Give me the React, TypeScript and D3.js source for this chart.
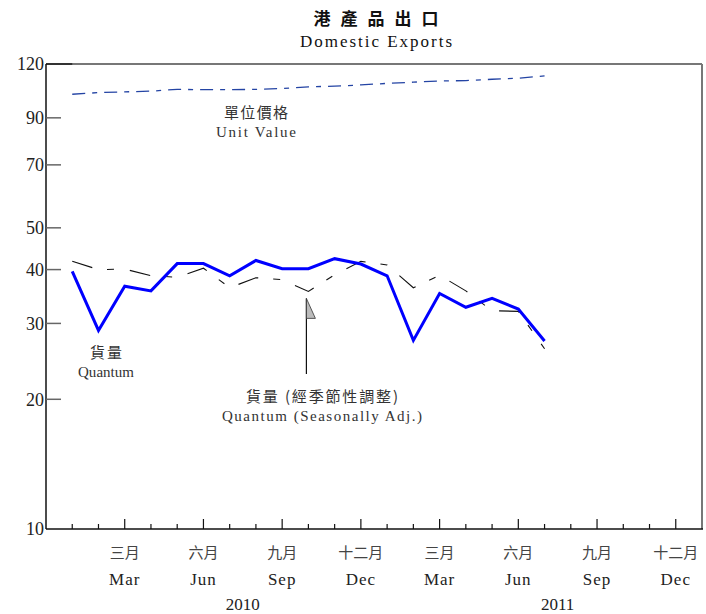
import { useEffect, useRef } from 'react';
import * as d3 from 'd3';

const MONTHS = [
  '2010-01', '2010-02', '2010-03', '2010-04', '2010-05', '2010-06',
  '2010-07', '2010-08', '2010-09', '2010-10', '2010-11', '2010-12',
  '2011-01', '2011-02', '2011-03', '2011-04', '2011-05', '2011-06', '2011-07',
];

// 貨量
const QUANTUM = [39.6, 28.9, 36.6, 35.7, 41.3, 41.3, 38.7, 42.0, 40.2, 40.2, 42.4, 41.2,
  38.7, 27.4, 35.2, 32.7, 34.3, 32.4, 27.3];

// 貨量 (經季節性調整)
const QUANTUM_SA = [41.8, 40.0, 40.1, 38.7, 38.4, 40.3, 36.3, 38.3, 37.9, 35.6, 38.9, 41.8,
  41.0, 36.3, 38.8, 35.7, 32.1, 32.0, 26.2];

// 單位價格
const UNIT_VALUE = [102.1, 103.0, 103.4, 103.8, 104.8, 104.6, 104.6, 104.8, 105.3, 106.2, 106.6, 107.3,
  108.2, 108.9, 109.6, 109.8, 110.6, 111.2, 112.6];

const Y_TICKS = [10, 20, 30, 40, 50, 70, 90, 120];
const MONTH_LABELS_ZH = ['三月', '六月', '九月', '十二月'];
const MONTH_LABELS_EN = ['Mar', 'Jun', 'Sep', 'Dec'];
const YEARS = ['2010', '2011'];

const SERIF = "'Liberation Serif', 'DejaVu Serif', serif";
const CJK = "'Noto Sans CJK TC', 'Noto Sans CJK SC', sans-serif";

export default function App() {
  const svgRef = useRef<SVGSVGElement>(null);

  useEffect(() => {
    if (!svgRef.current) return;
    const width = 706;
    const height = 614;
    const left = 46, right = 702, top = 64, bottom = 529;

    const svg = d3.select(svgRef.current);
    svg.selectAll('*').remove();
    svg.attr('viewBox', `0 0 ${width} ${height}`);

    // month index: 0 = Jan 2010, domain runs Dec 2009 .. Jan 2012
    const x = d3.scaleLinear().domain([-1, 24]).range([left, right]);
    const y = d3.scaleLog().domain([10, 120]).range([bottom, top]);

    // === title ===
    svg.append('text')
      .attr('x', 381).attr('y', 25)
      .attr('text-anchor', 'middle')
      .attr('font-family', CJK)
      .attr('font-size', 17)
      .attr('font-weight', 700)
      .attr('letter-spacing', '10px')
      .attr('fill', '#111')
      .text('港產品出口');
    svg.append('text')
      .attr('x', 376).attr('y', 47)
      .attr('text-anchor', 'middle')
      .attr('font-family', SERIF)
      .attr('font-size', 17)
      .attr('textLength', 152)
      .attr('fill', '#111')
      .text('Domestic Exports');

    // === frame ===
    svg.append('line')
      .attr('x1', left).attr('y1', top).attr('x2', right).attr('y2', top)
      .attr('stroke', '#777').attr('stroke-width', 2);
    svg.append('line')
      .attr('x1', right).attr('y1', top).attr('x2', right).attr('y2', bottom)
      .attr('stroke', '#777').attr('stroke-width', 2);
    svg.append('line')
      .attr('x1', left).attr('y1', top).attr('x2', x(0)).attr('y2', top)
      .attr('stroke', '#333').attr('stroke-width', 2);
    svg.append('line')
      .attr('x1', left).attr('y1', top).attr('x2', left).attr('y2', bottom)
      .attr('stroke', '#111').attr('stroke-width', 1.5);
    svg.append('line')
      .attr('x1', left).attr('y1', bottom).attr('x2', right + 1).attr('y2', bottom)
      .attr('stroke', '#111').attr('stroke-width', 1.5);

    // === y axis ===
    Y_TICKS.forEach((t) => {
      if (t !== 10 && t !== 120) {
        svg.append('line')
          .attr('x1', left).attr('x2', left + 15)
          .attr('y1', y(t)).attr('y2', y(t))
          .attr('stroke', '#666').attr('stroke-width', 1.5);
      }
      svg.append('text')
        .attr('x', 44).attr('y', y(t))
        .attr('dy', '0.36em')
        .attr('text-anchor', 'end')
        .attr('font-family', SERIF)
        .attr('font-size', 18)
        .attr('fill', '#222')
        .text(t);
    });

    // === x axis ===
    d3.range(24).forEach((m) => {
      const major = m % 3 === 2;
      svg.append('line')
        .attr('x1', x(m)).attr('x2', x(m))
        .attr('y1', bottom).attr('y2', bottom - (major ? 10 : 5))
        .attr('stroke', '#111').attr('stroke-width', 1.2);
      if (major) {
        const k = (m % 12 - 2) / 3;
        svg.append('text')
          .attr('x', x(m)).attr('y', 558)
          .attr('text-anchor', 'middle')
          .attr('font-family', CJK)
          .attr('font-size', 15)
          .attr('fill', '#444')
          .text(MONTH_LABELS_ZH[k]);
        svg.append('text')
          .attr('x', x(m)).attr('y', 585)
          .attr('text-anchor', 'middle')
          .attr('font-family', SERIF)
          .attr('font-size', 17)
          .attr('letter-spacing', '1px')
          .attr('fill', '#222')
          .text(MONTH_LABELS_EN[k]);
      }
    });
    YEARS.forEach((yr, i) => {
      svg.append('text')
        .attr('x', x(6.5 + i * 12)).attr('y', 610)
        .attr('text-anchor', 'middle')
        .attr('font-family', SERIF)
        .attr('font-size', 17)
        .attr('fill', '#222')
        .text(yr);
    });

    // === series ===
    const line = d3.line<number>()
      .x((_, i) => x(i))
      .y((d) => y(d));

    svg.append('path')
      .datum(UNIT_VALUE)
      .attr('d', line)
      .attr('fill', 'none')
      .attr('stroke', '#2444a4')
      .attr('stroke-width', 1.3)
      .attr('stroke-dasharray', '13,7,5,7');

    svg.append('path')
      .datum(QUANTUM_SA)
      .attr('d', line)
      .attr('fill', 'none')
      .attr('stroke', '#111')
      .attr('stroke-width', 1.1)
      .attr('stroke-dasharray', '21,15,7,16');

    svg.append('path')
      .datum(QUANTUM)
      .attr('d', line)
      .attr('fill', 'none')
      .attr('stroke', '#0000ff')
      .attr('stroke-width', 3)
      .attr('stroke-linejoin', 'miter');

    // === annotations ===
    const label = (text: string, cx: number, cy: number, cjk: boolean, len?: number) => {
      const t = svg.append('text')
        .attr('x', cx).attr('y', cy)
        .attr('text-anchor', 'middle')
        .attr('font-family', cjk ? CJK : SERIF)
        .attr('font-size', cjk ? 15 : 15)
        .attr('fill', '#333')
        .text(text);
      if (len) t.attr('textLength', len);
    };
    label('單位價格', 256, 118, true, 64);
    label('Unit Value', 256, 137, false, 80);
    label('貨量', 106, 358, true, 32);
    label('Quantum', 106, 377, false, 56);
    label('貨量 (經季節性調整)', 322, 402, true, 152);
    label('Quantum (Seasonally Adj.)', 322, 421, false, 200);

    // arrow pointing to the seasonally adjusted series
    const ax = x(9) - 2;
    const tipY = y(QUANTUM_SA[9]) + 7;
    svg.append('line')
      .attr('x1', ax).attr('x2', ax)
      .attr('y1', tipY).attr('y2', 374)
      .attr('stroke', '#111').attr('stroke-width', 1.2);
    svg.append('path')
      .attr('d', `M${ax},${tipY} L${ax},${tipY + 20} L${ax + 9},${tipY + 20} Z`)
      .attr('fill', '#bbb')
      .attr('stroke', '#333')
      .attr('stroke-width', 0.8);
  }, []);

  return (
    <svg
      ref={svgRef}
      width={706}
      height={614}
      style={{ position: 'absolute', left: 0, top: 0, background: '#fff' }}
    />
  );
}
